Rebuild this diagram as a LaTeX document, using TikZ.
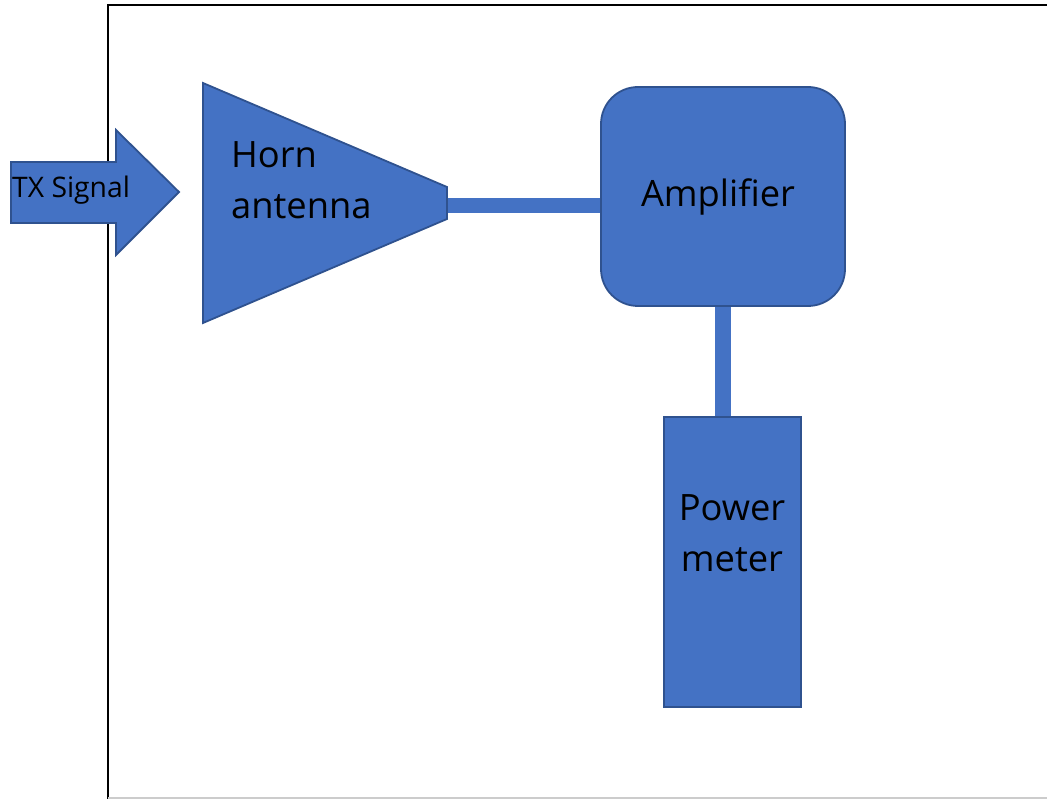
\documentclass[tikz,border=0pt]{standalone}
\usepackage{fontspec}
\setmainfont{Open Sans}
\definecolor{fillblue}{HTML}{4472C4}
\definecolor{edgeblue}{HTML}{2F528F}
\tikzset{
  shapeblue/.style={fill=fillblue, draw=edgeblue, line width=1.8pt, line join=miter},
  wire/.style={draw=fillblue, line width=15.5pt},
  bigtext/.style={inner sep=0pt, font=\fontsize{36.3}{51}\selectfont},
  smalltext/.style={inner sep=0pt, font=\fontsize{28.3}{33}\selectfont}
}
\begin{document}
\begin{tikzpicture}[x=1pt,y=-1pt]
\useasboundingbox (0,0) rectangle (1047,799);
% frame
\draw[black, line width=2.6pt] (108,799) -- (108,5) -- (1047,5);
\draw[black!20, line width=1.2pt] (108,798) -- (1047,798);
% TX signal arrow
\draw[shapeblue] (11,162) -- (116,162) -- (116,130) -- (179,192) -- (116,255) -- (116,223) -- (11,223) -- cycle;
\node[smalltext, anchor=base west] (tx) at (12,198) {TX Signal};
% horn antenna
\coordinate (hornTL) at (203,83);
\coordinate (hornBL) at (203,323);
\coordinate (hornTR) at (447,187);
\coordinate (hornBR) at (447,219);
\coordinate (hornout) at (447,205.5);
% connectors
\node[draw=none, minimum width=244pt, minimum height=219pt, inner sep=0pt] (ampbox) at (723,196.5) {};
\node[draw=none, minimum width=137pt, minimum height=290pt, inner sep=0pt] (pmbox) at (732.5,562) {};
\draw[wire] (hornout) -- (hornout -| ampbox.west);
\draw[wire] (ampbox.south) -- (ampbox.south |- pmbox.north);
\draw[shapeblue] (hornTL) -- (hornTR) -- (hornBR) -- (hornBL) -- cycle;
\node[bigtext, anchor=base west] (horn1) at (231,168) {Horn};
\node[bigtext, anchor=base west] (horn2) at (231,219) {antenna};
% amplifier
\node[shapeblue, rounded corners=37pt, minimum width=244pt, minimum height=219pt, inner sep=0pt] (amp) at (723,196.5) {};
\node[bigtext, anchor=base] (amptext) at (718,207) {Amplifier};
% power meter
\node[shapeblue, minimum width=137pt, minimum height=290pt, inner sep=0pt] (pm) at (732.5,562) {};
\node[bigtext, anchor=base] (pm1) at (732,520) {Power};
\node[bigtext, anchor=base] (pm2) at (732,571) {meter};
\end{tikzpicture}
\end{document}
